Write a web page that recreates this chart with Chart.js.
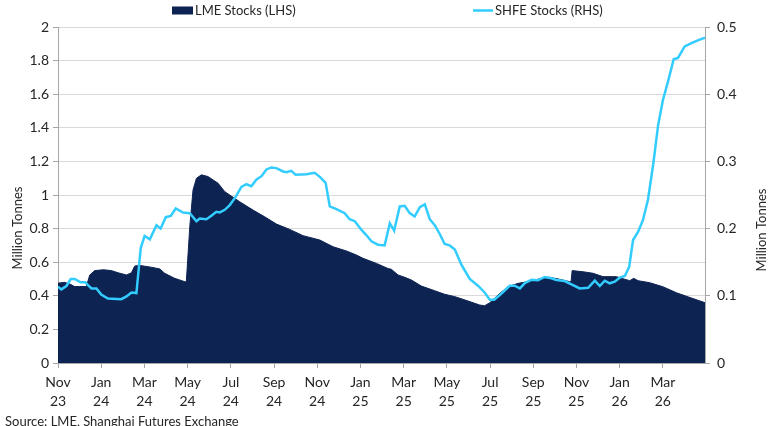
<!DOCTYPE html>
<html>
<head>
<meta charset="utf-8">
<script src="https://cdn.jsdelivr.net/npm/chart.js@4.4.1/dist/chart.umd.min.js"></script>
<style>
  html, body { margin: 0; padding: 0; background: #fff; }
  #wrap { position: relative; width: 770px; height: 426px; }
</style>
</head>
<body>
<div id="wrap"><canvas id="stocksChart" width="770" height="426"></canvas></div>
<script>
// x positions are months since 1 Nov 2023 (roughly weekly)
const lmeMonths = [0, 0.3, 0.55, 0.77, 1.0, 1.31, 1.47, 1.7, 2.1, 2.47, 2.78, 3.17, 3.4, 3.55, 3.78, 4.32, 4.71, 4.94, 5.4, 5.87, 5.94,
  6.1, 6.25, 6.41, 6.64, 6.94, 7.41, 7.72, 7.95, 8.41, 9.03, 9.57, 10.11, 10.73, 11.34, 12.12, 12.73, 13.35, 13.81, 14.12, 14.74,
  15.28, 15.43, 15.74, 16.05, 16.36, 16.82, 17.44, 17.9, 18.37, 18.98, 19.52, 19.75, 19.99, 20.37, 20.83, 21.3, 21.92, 22.53,
  22.76, 23.23, 23.69, 23.75, 23.8, 24.31, 24.77, 25.23, 25.85, 26.08, 26.47, 26.65, 26.85, 27.39, 28.0, 28.63, 29.25, 29.95];
const lmeStocks = [0.475, 0.48, 0.47, 0.455, 0.455, 0.455, 0.524, 0.55, 0.555, 0.55, 0.537, 0.524, 0.537, 0.577, 0.581, 0.57, 0.56, 0.534, 0.504, 0.484, 0.484,
  0.81, 1.03, 1.10, 1.12, 1.11, 1.07, 1.02, 1.0, 0.96, 0.91, 0.87, 0.827, 0.795, 0.758, 0.732, 0.692, 0.667, 0.643, 0.623, 0.593,
  0.562, 0.558, 0.524, 0.51, 0.494, 0.458, 0.43, 0.409, 0.395, 0.369, 0.345, 0.341, 0.359, 0.405, 0.454, 0.474, 0.488, 0.51,
  0.51, 0.498, 0.484, 0.484, 0.55, 0.543, 0.534, 0.514, 0.514, 0.504, 0.49, 0.504, 0.49, 0.478, 0.454, 0.418, 0.39, 0.359];

const shfeMonths = [0, 0.15, 0.39, 0.59, 0.77, 1.05, 1.27, 1.39, 1.55, 1.78, 2.0, 2.31, 2.93, 3.17, 3.4, 3.63, 3.83, 4.01, 4.25, 4.56, 4.75,
  4.99, 5.22, 5.45, 5.79, 6.1, 6.41, 6.56, 6.87, 7.1, 7.33, 7.49, 7.72, 7.95, 8.18, 8.49, 8.72, 8.95, 9.19, 9.42, 9.65, 9.88,
  10.11, 10.42, 10.57, 10.8, 11.0, 11.5, 11.88, 12.12, 12.39, 12.58, 12.89, 13.27, 13.5, 13.74, 14.05, 14.28, 14.51, 14.81, 15.12,
  15.36, 15.56, 15.82, 16.05, 16.28, 16.51, 16.75, 16.98, 17.21, 17.44, 17.67, 17.9, 18.13, 18.37, 18.68, 19.06, 19.44, 19.75,
  19.99, 20.19, 20.45, 20.91, 21.14, 21.38, 21.61, 21.92, 22.22, 22.53, 22.84, 23.07, 23.45, 23.84, 24.15, 24.54, 24.85, 25.08,
  25.31, 25.54, 25.77, 26.0, 26.24, 26.44, 26.62, 26.85, 27.08, 27.31, 27.55, 27.78, 28.0, 28.24, 28.5, 28.7, 29.01, 29.32, 29.62, 29.95];
const shfeStocks = [0.1135, 0.1096, 0.1146, 0.125, 0.125, 0.12, 0.12, 0.116, 0.111, 0.111, 0.102, 0.096, 0.095, 0.099, 0.105, 0.104, 0.171, 0.189, 0.184, 0.205, 0.2,
  0.217, 0.219, 0.23, 0.224, 0.223, 0.211, 0.215, 0.214, 0.219, 0.225, 0.224, 0.228, 0.235, 0.245, 0.262, 0.266, 0.263, 0.273, 0.278, 0.288, 0.291,
  0.29, 0.285, 0.284, 0.286, 0.28, 0.281, 0.283, 0.277, 0.268, 0.233, 0.229, 0.223, 0.214, 0.211, 0.198, 0.19, 0.181, 0.176, 0.175,
  0.208, 0.197, 0.233, 0.234, 0.223, 0.218, 0.232, 0.236, 0.214, 0.205, 0.192, 0.177, 0.175, 0.169, 0.146, 0.125, 0.115, 0.105,
  0.094, 0.094, 0.101, 0.115, 0.115, 0.111, 0.119, 0.124, 0.123, 0.128, 0.126, 0.1235, 0.122, 0.116, 0.111, 0.112, 0.1225, 0.1146,
  0.1225, 0.1186, 0.121, 0.127, 0.1295, 0.143, 0.183, 0.195, 0.213, 0.243, 0.295, 0.354, 0.391, 0.419, 0.452, 0.454, 0.471, 0.476, 0.48, 0.484];

// one label every 2 months, starting Nov 23
const xTickLabels = [['Nov', '23'], ['Jan', '24'], ['Mar', '24'], ['May', '24'], ['Jul', '24'], ['Sep', '24'], ['Nov', '24'],
  ['Jan', '25'], ['Mar', '25'], ['May', '25'], ['Jul', '25'], ['Sep', '25'], ['Nov', '25'], ['Jan', '26'], ['Mar', '26']];
const xMax = 29.95;

const NAVY = '#0d2352';
const CYAN = '#33ccff';
const GRID = '#d9d9d9';
const AXIS = '#a6a6a6';
const TEXT = '#262626';
const FONT = "Lato, 'Liberation Sans', sans-serif";

Chart.defaults.font.family = FONT;
Chart.defaults.color = TEXT;

const toPoints = (xs, ys) => xs.map((x, i) => ({ x: x, y: ys[i] }));

// legend, axis titles and source line, drawn Excel-style
const extras = {
    id: 'extras',
    afterDraw(chart) {
        const ctx = chart.ctx;
        ctx.save();
        ctx.fillStyle = TEXT;
        ctx.font = '13px ' + FONT;
        ctx.textBaseline = 'middle';
        ctx.textAlign = 'left';

        ctx.fillStyle = NAVY;
        ctx.fillRect(172, 6.5, 21, 8);
        ctx.fillStyle = TEXT;
        ctx.fillText('LME Stocks (LHS)', 195, 11);

        ctx.strokeStyle = CYAN;
        ctx.lineWidth = 2.5;
        ctx.beginPath();
        ctx.moveTo(473, 10.5);
        ctx.lineTo(493, 10.5);
        ctx.stroke();
        ctx.fillText('SHFE Stocks (RHS)', 495, 11);

        ctx.textAlign = 'center';
        [[18, 228], [762, 230]].forEach(([x, y]) => {
            ctx.save();
            ctx.translate(x, y);
            ctx.rotate(-Math.PI / 2);
            ctx.fillText('Million Tonnes', 0, 0);
            ctx.restore();
        });

        ctx.textAlign = 'left';
        ctx.textBaseline = 'top';
        ctx.fillText('Source: LME, Shanghai Futures Exchange', 5, 415);
        ctx.restore();
    }
};

const fmt = (v) => String(+v.toFixed(2));

new Chart(document.getElementById('stocksChart'), {
    type: 'line',
    data: {
        datasets: [
            {
                label: 'SHFE Stocks (RHS)',
                data: toPoints(shfeMonths, shfeStocks),
                borderColor: CYAN,
                borderWidth: 2.5,
                pointRadius: 0,
                tension: 0,
                fill: false,
                yAxisID: 'y1',
                order: 0
            },
            {
                label: 'LME Stocks (LHS)',
                data: toPoints(lmeMonths, lmeStocks),
                borderColor: NAVY,
                backgroundColor: NAVY,
                borderWidth: 1,
                pointRadius: 0,
                tension: 0,
                fill: 'origin',
                yAxisID: 'y',
                order: 1
            }
        ]
    },
    options: {
        responsive: false,
        animation: false,
        layout: { padding: { top: 27, left: 0, right: 0, bottom: 0 } },
        plugins: {
            legend: { display: false },
            tooltip: { enabled: false }
        },
        scales: {
            x: {
                type: 'linear',
                min: 0,
                max: xMax,
                afterFit: (s) => { s.height = 63; },
                grid: { drawOnChartArea: false, tickLength: 5, tickColor: AXIS },
                border: { color: AXIS },
                ticks: {
                    stepSize: 2,
                    includeBounds: false,
                    autoSkip: false,
                    maxRotation: 0,
                    padding: 5,
                    font: { size: 14, lineHeight: 1.35 },
                    callback: (v) => xTickLabels[Math.round(v / 2)] || ''
                }
            },
            y: {
                position: 'left',
                min: 0,
                max: 2,
                afterFit: (s) => { s.width = 58; },
                grid: { color: GRID, tickLength: 5, tickColor: AXIS },
                border: { color: AXIS },
                ticks: { stepSize: 0.2, padding: 4, font: { size: 14 }, callback: fmt }
            },
            y1: {
                position: 'right',
                min: 0,
                max: 0.5,
                afterFit: (s) => { s.width = 65; },
                grid: { drawOnChartArea: false, tickLength: 5, tickColor: AXIS },
                border: { color: AXIS },
                ticks: { stepSize: 0.1, padding: 7, font: { size: 14 }, callback: fmt }
            }
        }
    },
    plugins: [extras]
});
</script>
</body>
</html>
